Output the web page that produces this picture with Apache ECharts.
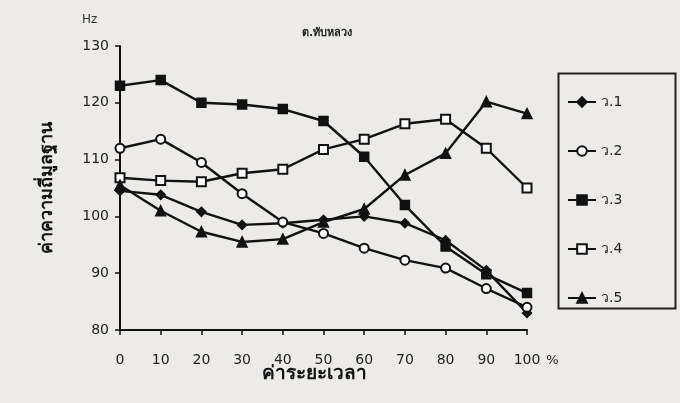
<!DOCTYPE html>
<html>
<head>
<meta charset="utf-8">
<script src="https://cdn.jsdelivr.net/npm/echarts@6/dist/echarts.min.js"></script>
<style>
html,body{margin:0;padding:0;background:#ecebe7;}
#c{width:680px;height:403px;}
</style>
</head>
<body>
<div id="c"></div>
<script>
const xValues = [0, 10, 20, 30, 40, 50, 60, 70, 80, 90, 100];
const seriesNames = ['ว.1', 'ว.2', 'ว.3', 'ว.4', 'ว.5'];
const v1 = [104.5, 103.8, 100.8, 98.5, 98.8, 99.4, 100.0, 98.8, 95.8, 90.5, 83.0];
const v2 = [112.0, 113.6, 109.5, 104.0, 99.0, 97.0, 94.4, 92.3, 90.9, 87.3, 84.0];
const v3 = [123.0, 124.0, 120.0, 119.7, 118.9, 116.8, 110.5, 102.0, 94.7, 89.8, 86.5];
const v4 = [106.8, 106.3, 106.1, 107.6, 108.3, 111.8, 113.6, 116.3, 117.1, 112.0, 105.0];
const v5 = [105.5, 101.0, 97.3, 95.5, 96.0, 99.0, 101.3, 107.3, 111.1, 120.2, 118.1];
const titleText = 'ต.ทับหลวง';
const yName = 'ค่าความถี่มูลฐาน';
const xName = 'ค่าระยะเวลา';

const allValues = [v1, v2, v3, v4, v5];
const symbols = ['diamond', 'emptyCircle', 'rect', 'emptyRect', 'triangle'];
const sizes = [9, 9, 9, 9, 10];
const font = '"DejaVu Sans", "Noto Sans", sans-serif';

const chart = echarts.init(document.getElementById('c'));
chart.setOption({
  backgroundColor: '#ecebe7',
  animation: false,
  title: {
    text: titleText, left: 322, top: 23, textAlign: 'center',
    textStyle: {fontSize: 11, fontWeight: 'bold', color: '#222', fontFamily: font}
  },
  grid: {left: 120, right: 153, top: 46, bottom: 73},
  xAxis: {
    type: 'value', min: 0, max: 100, interval: 10,
    axisLine: {lineStyle: {color: '#111', width: 2}},
    axisTick: {show: true, length: 5, inside: false, lineStyle: {color: '#111', width: 1.5}},
    splitLine: {show: false},
    axisLabel: {color: '#222', fontSize: 14, fontFamily: font, margin: 23},
    name: '%', nameLocation: 'end', nameGap: 14,
    nameTextStyle: {color: '#222', fontSize: 13, fontFamily: font, verticalAlign: 'top', padding: [24, 0, 0, 0]}
  },
  yAxis: {
    type: 'value', min: 80, max: 130, interval: 10,
    axisLine: {show: true, lineStyle: {color: '#111', width: 2}},
    axisTick: {show: true, length: 5, lineStyle: {color: '#111', width: 1.5}},
    splitLine: {show: false},
    axisLabel: {color: '#222', fontSize: 14, fontFamily: font, margin: 11},
    name: yName, nameLocation: 'middle', nameRotate: 90, nameGap: 64,
    nameTextStyle: {color: '#111', fontSize: 18, fontWeight: 'bold', fontFamily: font}
  },
  legend: {
    orient: 'vertical', left: 562, top: 90, itemGap: 35,
    itemWidth: 28, itemHeight: 12,
    textStyle: {color: '#222', fontSize: 14, fontFamily: font},
    data: seriesNames
  },
  graphic: [
    {type: 'rect', left: 556, top: 71, shape: {width: 117, height: 235},
     style: {fill: 'none', stroke: '#222', lineWidth: 2}},
    {type: 'text', left: 82, top: 14, style: {text: 'Hz', fontSize: 12, fill: '#333', fontFamily: font}},
    {type: 'text', left: 262, top: 365, style: {text: xName, fontSize: 19, fontWeight: 'bold', fill: '#111', fontFamily: font}}
  ],
  series: allValues.map((vals, i) => ({
    name: seriesNames[i],
    type: 'line',
    data: xValues.map((x, j) => [x, vals[j]]),
    symbol: symbols[i],
    symbolSize: sizes[i],
    showAllSymbol: true,
    lineStyle: {color: '#111', width: 2.4},
    itemStyle: {color: '#111', borderColor: '#111', borderWidth: 1.5},
    z: 2
  }))
});
</script>
</body>
</html>
